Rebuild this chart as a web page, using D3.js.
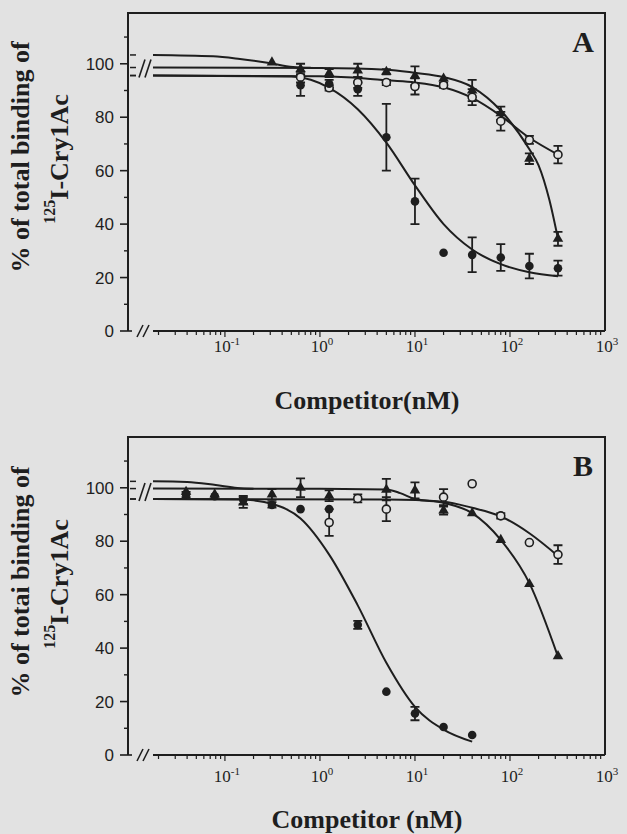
<!DOCTYPE html>
<html>
<head>
<meta charset="utf-8">
<script src="https://cdn.jsdelivr.net/npm/d3@7"></script>
<style>
  body { margin: 0; background: #e2e2e2; }
  svg { display: block; }
</style>
</head>
<body>
<svg id="chart" width="627" height="834"></svg>
<script>
// ---- data ----
var concA = [0.3125, 0.625, 1.25, 2.5, 5, 10, 20, 40, 80, 160, 320];
var filledA    = [null, 92, 92.5, 90.5, 72.5, 48.5, 29.3, 28.5, 27.5, 24.3, 23.5];
var filledErrA = [0, 4, 1.5, 2.5, 12.5, 8.5, 0, 6.5, 5, 4.6, 2.8];
var openA      = [null, 95, 91, 93, 93, 91.5, 92, 87.5, 78.5, 71.5, 66];
var openErrA   = [0, 2, 1, 2, 1, 3, 1, 3, 3.5, 1.5, 3.3];
var triA       = [100.5, 98, 96.5, 97.5, 97, 95.5, 94.5, 90, 81.5, 64.5, 34.5];
var triErrA    = [0, 2, 1.5, 2.5, 1, 3.5, 0, 4, 2.5, 2, 2.6];

var fitTopA    = [[0.0175, 103.3], [0.075, 102.8], [0.144, 101.8], [0.28, 100.4], [0.52, 98.8], [0.8, 98.5]];
var fitTriA    = [[0.0175, 98.6], [1, 98.4], [5, 97.8], [10, 96.6], [20, 95], [40, 91.3], [80, 82.5], [160, 68], [200, 62], [260, 49], [320, 34.5]];
var fitOpenA   = [[0.0175, 95.6], [1, 95.3], [3, 94.5], [5, 93.8], [10, 93], [20, 91.2], [40, 87.2], [80, 80.5], [160, 72.3], [320, 66]];
var fitFilledA = [[0.0175, 95.6], [0.5, 95.2], [0.8, 94], [1.25, 91], [2.5, 83], [5, 70.5], [10, 54.5], [20, 40], [40, 30.5], [80, 25], [160, 22], [320, 20.5]];

var concB = [0.039, 0.078, 0.156, 0.3125, 0.625, 1.25, 2.5, 5, 10, 20, 40, 80, 160, 320];
var filledB    = [97.5, 96.8, 95.5, 93.6, 92, 92, 48.7, 23.7, 15.5, 10.5, 7.5, null, null, null];
var filledErrB = [1, 0, 1.5, 1, 0, 0, 1.5, 0, 2.5, 0, 0, 0, 0, 0];
var openB      = [null, null, null, null, null, 87, 96, 92, null, 96.5, 101.5, 89.5, 79.5, 75];
var openErrB   = [0, 0, 0, 0, 0, 5, 1.5, 4.5, 0, 3, 0, 1, 0, 3.5];
var triB       = [98.5, 97.5, 94.5, 97.5, 100, 97, null, 99.3, 99, 91.5, 90.5, 80.5, 64, 37];
var triErrB    = [0, 0, 2, 2, 3.5, 2, 0, 4, 3, 1.5, 0, 0, 0, 0];

var fitTopB    = [[0.0175, 102.4], [0.04, 102.2], [0.08, 101], [0.135, 99.9], [0.2, 99.6]];
var fitTriB    = [[0.0175, 99.7], [1, 99.6], [5, 99.4], [7, 98], [10, 95.8], [20, 94.4], [40, 90.5], [80, 80.5], [160, 64.3], [320, 36.8]];
var fitOpenB   = [[0.0175, 95.8], [5, 95.6], [20, 94.8], [40, 92.5], [80, 89.3], [160, 83], [320, 74.5]];
var fitFilledB = [[0.0175, 95.8], [0.15, 95.6], [0.2, 95.3], [0.3125, 94], [0.625, 88.5], [1.25, 75], [2.5, 56], [5, 34.5], [10, 18], [20, 9.5], [40, 5]];

var yMajor = [0, 20, 40, 60, 80, 100];
var yMinor = [10, 30, 50, 70, 90, 110];
var xDecades = [-1, 0, 1, 2, 3];

var ink = "#1e1e1e", bg = "#e2e2e2";
var serif = "'Liberation Serif', 'Times New Roman', serif";
var sans = "'Liberation Sans', Arial, sans-serif";

var svg = d3.select("#chart");
svg.append("rect").attr("width", 627).attr("height", 834).attr("fill", bg);

var panels = [
  {top: 13, bottom: 331, letter: "A", conc: concA,
   filled: filledA, filledErr: filledErrA, open: openA, openErr: openErrA, tri: triA, triErr: triErrA,
   fits: [fitTopA, fitTriA, fitOpenA, fitFilledA],
   title: "Competitor(nM)", titleY: 409, tickY: 352,
   ylab: "% of total binding of", ylabY: 157},
  {top: 437, bottom: 755, letter: "B", conc: concB,
   filled: filledB, filledErr: filledErrB, open: openB, openErr: openErrB, tri: triB, triErr: triErrB,
   fits: [fitTopB, fitTriB, fitOpenB, fitFilledB],
   title: "Competitor (nM)", titleY: 828, tickY: 782,
   ylab: "% of totai binding of", ylabY: 582}
];

var left = 128, right = 605, axisStart = 153;

panels.forEach(function(p){
  var g = svg.append("g");
  var x = d3.scaleLog().domain([0.0175, 1000]).range([axisStart, right]);
  var y = d3.scaleLinear().domain([0, 119]).range([p.bottom, p.top]);

  // frame
  g.append("path")
    .attr("d", "M" + left + "," + p.bottom + "V" + p.top + "H" + right + "V" + p.bottom)
    .attr("fill", "none").attr("stroke", ink).attr("stroke-width", 2);
  g.append("line").attr("x1", axisStart).attr("x2", right)
    .attr("y1", p.bottom).attr("y2", p.bottom)
    .attr("stroke", ink).attr("stroke-width", 2);

  // y ticks
  yMajor.forEach(function(v){
    var x0 = v === 0 ? 132 : left;
    g.append("line").attr("x1", 120).attr("x2", x0).attr("y1", y(v)).attr("y2", y(v))
      .attr("stroke", ink).attr("stroke-width", 1.6);
    g.append("text").attr("x", 114).attr("y", y(v)).attr("dy", "0.35em")
      .attr("text-anchor", "end").attr("font-family", sans).attr("font-size", 17)
      .attr("fill", ink).text(v);
  });
  yMinor.forEach(function(v){
    g.append("line").attr("x1", 124).attr("x2", left).attr("y1", y(v)).attr("y2", y(v))
      .attr("stroke", ink).attr("stroke-width", 1.4);
  });

  // x ticks (log)
  for (var e = -2; e <= 2; e++) {
    for (var k = 1; k <= 9; k++) {
      var c = k * Math.pow(10, e);
      if (c < 0.0175 || c > 1000) continue;
      g.append("line").attr("x1", x(c)).attr("x2", x(c))
        .attr("y1", p.bottom).attr("y2", p.bottom + (k === 1 ? 6 : 4))
        .attr("stroke", ink).attr("stroke-width", 1.2);
    }
  }
  xDecades.forEach(function(d){
    var t = g.append("text").attr("x", x(Math.pow(10, d)) + 2).attr("y", p.tickY)
      .attr("text-anchor", "middle").attr("font-family", serif).attr("font-size", 17)
      .attr("fill", ink);
    t.append("tspan").text("10");
    t.append("tspan").attr("dy", -7).attr("font-size", 11).text(d === -1 ? "-1" : d);
  });

  // axis breaks
  var starts = p.fits.map(function(f){ return f[0][1]; });
  starts.forEach(function(v){
    g.append("line").attr("x1", 130).attr("x2", 136).attr("y1", y(v)).attr("y2", y(v))
      .attr("stroke", ink).attr("stroke-width", 1.5);
  });
  var yb = y(d3.mean(starts));
  [139, 145].forEach(function(bx){
    g.append("line").attr("x1", bx).attr("x2", bx + 6).attr("y1", yb + 9).attr("y2", yb - 9)
      .attr("stroke", ink).attr("stroke-width", 1.6);
    g.append("line").attr("x1", bx - 2).attr("x2", bx + 4).attr("y1", p.bottom + 6).attr("y2", p.bottom - 6)
      .attr("stroke", ink).attr("stroke-width", 1.6);
  });

  // fitted curves
  var line = d3.line().x(function(d){ return x(d[0]); }).y(function(d){ return y(d[1]); })
    .curve(d3.curveMonotoneX);
  p.fits.forEach(function(f){
    g.append("path").attr("d", line(f)).attr("fill", "none")
      .attr("stroke", ink).attr("stroke-width", 2);
  });

  // error bars
  function errBars(vals, errs){
    vals.forEach(function(v, i){
      if (v == null || !errs[i]) return;
      var cx = x(p.conc[i]);
      g.append("path")
        .attr("d", "M" + cx + "," + y(v - errs[i]) + "V" + y(v + errs[i]) +
                   "M" + (cx - 4.5) + "," + y(v - errs[i]) + "h9" +
                   "M" + (cx - 4.5) + "," + y(v + errs[i]) + "h9")
        .attr("fill", "none").attr("stroke", ink).attr("stroke-width", 1.8);
    });
  }
  errBars(p.tri, p.triErr);
  errBars(p.open, p.openErr);
  errBars(p.filled, p.filledErr);

  // markers
  var tri = d3.symbol(d3.symbolTriangle).size(48);
  p.tri.forEach(function(v, i){
    if (v == null) return;
    g.append("path").attr("d", tri())
      .attr("transform", "translate(" + x(p.conc[i]) + "," + y(v) + ")")
      .attr("fill", ink);
  });
  p.open.forEach(function(v, i){
    if (v == null) return;
    g.append("circle").attr("cx", x(p.conc[i])).attr("cy", y(v)).attr("r", 4)
      .attr("fill", bg).attr("stroke", ink).attr("stroke-width", 1.6);
  });
  p.filled.forEach(function(v, i){
    if (v == null) return;
    g.append("circle").attr("cx", x(p.conc[i])).attr("cy", y(v)).attr("r", 4.3)
      .attr("fill", ink);
  });

  // panel letter
  g.append("text").attr("x", 583).attr("y", p.top + 39).attr("text-anchor", "middle")
    .attr("font-family", serif).attr("font-weight", "bold").attr("font-size", 30)
    .attr("fill", ink).text(p.letter);

  // x title
  g.append("text").attr("x", 367).attr("y", p.titleY).attr("text-anchor", "middle")
    .attr("font-family", serif).attr("font-weight", "bold").attr("font-size", 26)
    .attr("fill", ink).text(p.title);

  // y title (two lines, rotated)
  g.append("text").attr("transform", "translate(29," + p.ylabY + ") rotate(-90)")
    .attr("text-anchor", "middle").attr("font-family", serif).attr("font-weight", "bold")
    .attr("font-size", 26).attr("fill", ink).text(p.ylab);
  var t2 = g.append("text").attr("transform", "translate(68," + (p.ylabY + 2) + ") rotate(-90)")
    .attr("text-anchor", "middle").attr("font-family", serif).attr("font-weight", "bold")
    .attr("font-size", 26).attr("fill", ink);
  t2.append("tspan").attr("font-size", 16).attr("dy", -13).text("125");
  t2.append("tspan").attr("dy", 13).text("I-Cry1Ac");
});
</script>
</body>
</html>
